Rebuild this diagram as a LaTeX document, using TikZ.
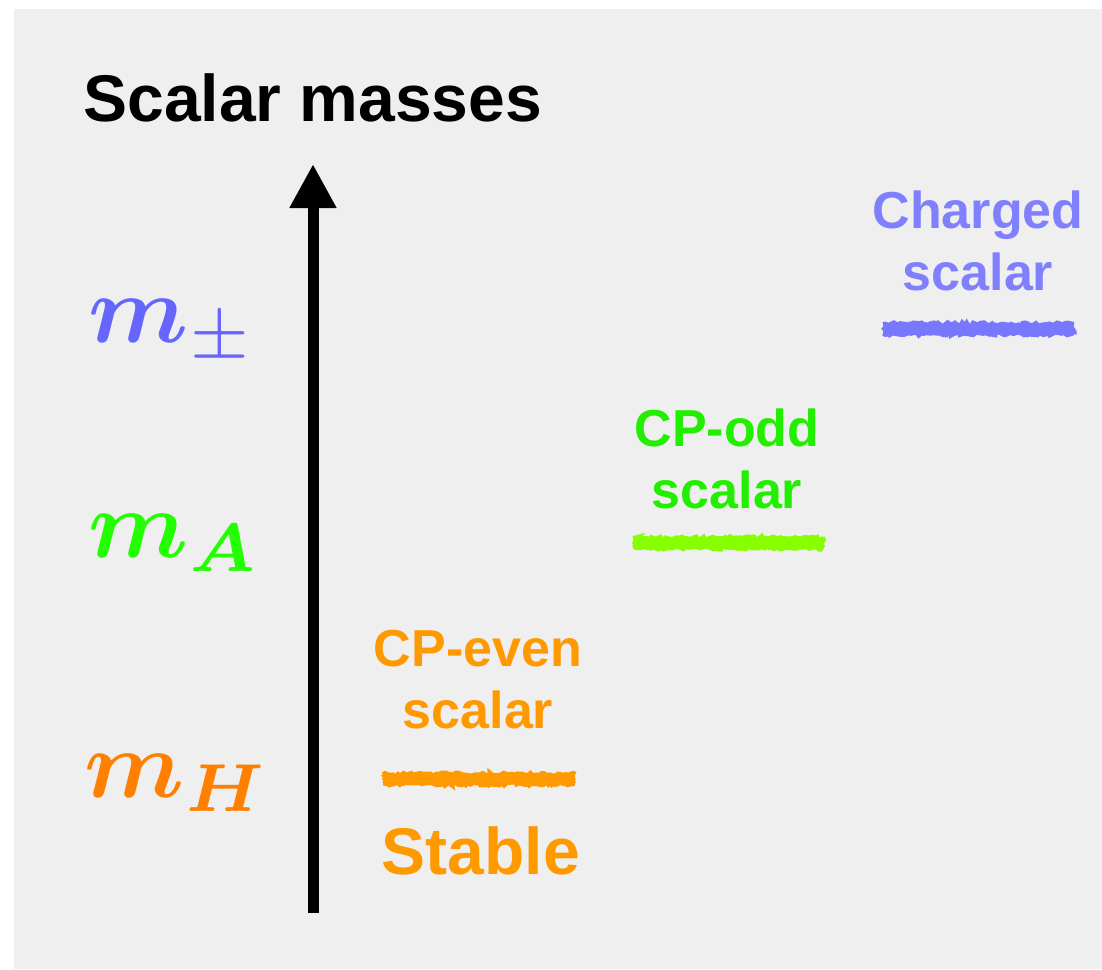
\documentclass[tikz,border=0pt]{standalone}
\usepackage{amsmath}
\usepackage[no-math]{fontspec}
\setmainfont{Liberation Sans}
\usetikzlibrary{arrows.meta,calc,decorations.pathmorphing}

\definecolor{panel}{HTML}{EFEFEF}
\definecolor{chgline}{HTML}{7878FF}
\definecolor{chgtext}{HTML}{8080FF}
\definecolor{chgmass}{HTML}{6666FF}
\definecolor{oddline}{HTML}{88FF00}
\definecolor{oddtext}{HTML}{22EE00}
\definecolor{oddmass}{HTML}{22FF00}
\definecolor{evenline}{HTML}{FF9900}
\definecolor{eventext}{HTML}{FF9900}
\definecolor{evenmass}{HTML}{FF8000}

\begin{document}
\pgfmathsetseed{7}
\begin{tikzpicture}[x=0.5pt,y=-0.5pt,
  title/.style={anchor=base west,inner sep=0pt,font=\fontsize{33}{40}\selectfont\bfseries},
  state/.style={align=center,inner sep=0pt,font=\fontsize{26}{31}\selectfont\bfseries},
  mass/.style={anchor=base west,inner sep=0pt,scale=4.85},
  rough/.style={line width=2.5pt,decorate,decoration={random steps,segment length=1.2pt,amplitude=0.8pt}}]
\useasboundingbox[fill=white] (0,0) rectangle (1102,969);
\fill[panel] (14,9) rectangle (1102,969);
\node[title] (T) at (83,121) {Scalar masses};
% mass axis
\coordinate (ax0) at (313,913);
\coordinate (ax1) at (313,164);
\draw[line width=5.5pt,-{Triangle[length=22pt,width=22pt]}] (ax0) -- (ax1);
\node[mass,text=chgmass] (Mc) at (87,342) {$\boldsymbol{m}_{\pm}$};
\node[mass,text=oddmass] (Ma) at (87,557) {$\boldsymbol{m}_{\boldsymbol{A}}$};
\node[mass,text=evenmass] (Mh) at (83,797) {$\boldsymbol{m}_{\boldsymbol{H}}$};
% levels
\coordinate (cL) at (883,329); \coordinate (cR) at (1074,329);
\coordinate (oL) at (633,543); \coordinate (oR) at (824,543);
\coordinate (eL) at (383,779); \coordinate (eR) at (575,779);
\foreach \a/\b/\c in {cL/cR/chgline,oL/oR/oddline,eL/eR/evenline} {
  \draw[\c,line width=4pt] (\a) -- (\b);
  \foreach \d in {-4.5,-1.5,1.5,4.5}
    \draw[rough,\c] ($(\a)+(0,\d)$) -- ($(\b)+(0,\d)$);
}
\node[state,text=chgtext] (C) at (978,241) {Charged\\scalar};
\node[state,text=oddtext] (O) at (727,459) {CP-odd\\scalar};
\node[state,text=eventext] (E) at (478,680) {CP-even\\scalar};
\node[title,anchor=base,text=eventext] (S) at (481,874) {Stable};
\end{tikzpicture}
\end{document}
